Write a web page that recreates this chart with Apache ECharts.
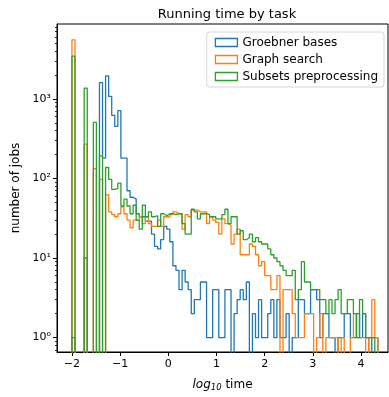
<!DOCTYPE html>
<html>
<head>
<meta charset="utf-8">
<script src="https://cdn.jsdelivr.net/npm/echarts@6/dist/echarts.min.js"></script>
<style>
  html, body { margin: 0; padding: 0; background: #fff; }
  #chart { width: 389px; height: 397px; }
</style>
</head>
<body>
<div id="chart"></div>
<script>
// histogram bins over log10(time)
const binStart = -2.0;
const binWidth = 0.0635;

const seriesNames = ['Groebner bases', 'Graph search', 'Subsets preprocessing'];
const colors = ['#1f77b4', '#ff7f0e', '#2ca02c'];

// counts per bin
const groebner = [
  1, 0, 0, 0, 10, 0, 0, 0, 0, 1600,
  180, 1940, 1070, 620, 450, 710, 180, 180, 70, 58,
  55, 36, 33, 33, 29, 29, 20, 14, 13, 17,
  25, 23, 16, 8, 7, 4, 7, 5, 4, 2,
  3, 3, 5, 5, 1, 1, 4, 4, 1, 1,
  4, 4, 0, 2, 3, 4, 3, 5, 0, 2,
  1, 3, 1, 1, 2, 3, 1, 3, 1, 1,
  2, 0, 1, 1, 3, 3, 2, 2, 4, 4,
  3, 1, 2, 2, 1, 1, 0, 1, 1, 2,
  2, 1, 1, 2, 1, 2, 1, 0, 1, 1
];
const graphSearch = [
  5500, 0, 0, 0, 270, 0, 0, 133, 0, 97,
  0, 62, 38, 35, 33, 36, 44, 36, 30, 24,
  30, 30, 33, 27, 33, 27, 25, 25, 30, 25,
  33, 33, 35, 38, 36, 36, 23, 35, 33, 40,
  40, 38, 38, 38, 27, 33, 30, 28, 20, 31,
  27, 26, 15, 20, 23, 11, 11, 11, 15, 14,
  11, 8, 9, 6, 6, 4, 4, 6, 0, 4,
  4, 4, 2, 1, 1, 1, 2, 2, 2, 0,
  1, 2, 0, 1, 1, 1, 1, 0, 1, 0,
  0, 1, 2, 1, 1, 1, 0, 1, 3, 1
];
const subsets = [
  3430, 0, 0, 0, 1360, 0, 0, 505, 0, 192,
  0, 137, 97, 73, 75, 87, 45, 55, 45, 36,
  46, 30, 23, 46, 33, 38, 33, 34, 25, 36,
  34, 36, 36, 35, 36, 36, 27, 20, 20, 41,
  38, 31, 36, 36, 35, 33, 33, 31, 31, 35,
  41, 27, 33, 33, 20, 22, 17, 18, 20, 16,
  18, 16, 15, 15, 13, 11, 10, 9, 8, 7,
  6, 6, 7, 3, 4, 9, 5, 5, 4, 4,
  4, 3, 3, 2, 3, 2, 3, 4, 2, 2,
  3, 3, 2, 1, 3, 2, 1, 1, 1, 0
];

const xTicks = [-2, -1, 0, 1, 2, 3, 4];
const yTicks = [1, 10, 100, 1000];
const yMinorTicks = [0.7, 0.8, 0.9, 2, 3, 4, 5, 6, 7, 8, 9, 20, 30, 40, 50, 60, 70, 80, 90,
  200, 300, 400, 500, 600, 700, 800, 900, 2000, 3000, 4000, 5000, 6000, 7000, 8000];

const supDigits = { '0': '\u2070', '1': '\u00b9', '2': '\u00b2', '3': '\u00b3' };

// zero counts fall below the log axis and get clipped, like matplotlib
const floorVal = 0.05;
function stepPoints(counts) {
  const pts = [[binStart, floorVal]];
  counts.forEach((c, i) => {
    const v = c > 0 ? c : floorVal;
    pts.push([binStart + i * binWidth, v]);
    pts.push([binStart + (i + 1) * binWidth, v]);
  });
  pts.push([binStart + counts.length * binWidth, floorVal]);
  return pts;
}

const chart = echarts.init(document.getElementById('chart'), null, { renderer: 'canvas' });
const font = 'DejaVu Sans';

const option = {
  animation: false,
  textStyle: { fontFamily: font },
  title: {
    text: 'Running time by task',
    left: 222,
    top: 3,
    textAlign: 'center',
    textStyle: { fontFamily: font, fontSize: 13, fontWeight: 'normal', color: '#000' }
  },
  legend: {
    right: 5,
    top: 32,
    orient: 'vertical',
    icon: 'rect',
    itemWidth: 22,
    itemHeight: 8,
    itemGap: 4,
    padding: [4, 6, 4, 8],
    borderColor: '#d6d6d6',
    borderWidth: 1,
    borderRadius: 3,
    backgroundColor: '#fff',
    textStyle: { fontFamily: font, fontSize: 12, color: '#000', lineHeight: 13 },
    data: seriesNames.map((n, i) => ({
      name: n,
      itemStyle: { color: 'rgba(0,0,0,0)', borderColor: colors[i], borderWidth: 1.3 }
    }))
  },
  grid: {
    left: 57, right: 1, top: 24, bottom: 39,
    show: true, borderColor: '#000', borderWidth: 1
  },
  xAxis: {
    type: 'value',
    min: -2.31,
    max: 4.56,
    name: '{i|log}{s|10}{t| time}',
    nameLocation: 'middle',
    nameGap: 25,
    nameTextStyle: {
      rich: {
        i: { fontFamily: font, fontStyle: 'italic', fontSize: 12, color: '#000' },
        s: { fontFamily: font, fontStyle: 'italic', fontSize: 8.5, color: '#000', padding: [6, 0, 0, 0] },
        t: { fontFamily: font, fontSize: 12, color: '#000' }
      }
    },
    axisLine: { show: true, onZero: false, lineStyle: { color: '#000', width: 1 } },
    axisTick: { show: true, length: 4, customValues: xTicks, lineStyle: { color: '#000' } },
    axisLabel: {
      customValues: xTicks,
      margin: 7,
      fontFamily: font, fontSize: 11, color: '#000',
      formatter: v => String(v).replace('-', '\u2212')
    },
    splitLine: { show: false }
  },
  yAxis: [
    {
      type: 'log',
      logBase: 10,
      min: 0.66,
      max: 8700,
      name: 'number of jobs',
      nameLocation: 'middle',
      nameGap: 34,
      nameTextStyle: { fontFamily: font, fontSize: 12, color: '#000' },
      axisLine: { show: true, onZero: false, lineStyle: { color: '#000', width: 1 } },
      axisTick: { show: true, length: 4, customValues: yTicks, lineStyle: { color: '#000' } },
      axisLabel: {
        customValues: yTicks,
        margin: 6,
        fontFamily: font, fontSize: 11, color: '#000',
        formatter: v => '10' + supDigits[String(Math.round(Math.log10(v)))]
      },
      splitLine: { show: false }
    },
    {
      type: 'log',
      logBase: 10,
      min: 0.66,
      max: 8700,
      position: 'left',
      axisLine: { show: false, onZero: false },
      axisTick: { show: true, length: 2, customValues: yMinorTicks, lineStyle: { color: '#000', width: 0.8 } },
      axisLabel: { show: false },
      splitLine: { show: false }
    }
  ],
  series: [groebner, graphSearch, subsets].map((counts, i) => ({
    name: seriesNames[i],
    type: 'line',
    data: stepPoints(counts),
    symbol: 'none',
    clip: true,
    lineStyle: { color: colors[i], width: 1.3 },
    itemStyle: { color: colors[i] }
  }))
};

chart.setOption(option);
</script>
</body>
</html>
